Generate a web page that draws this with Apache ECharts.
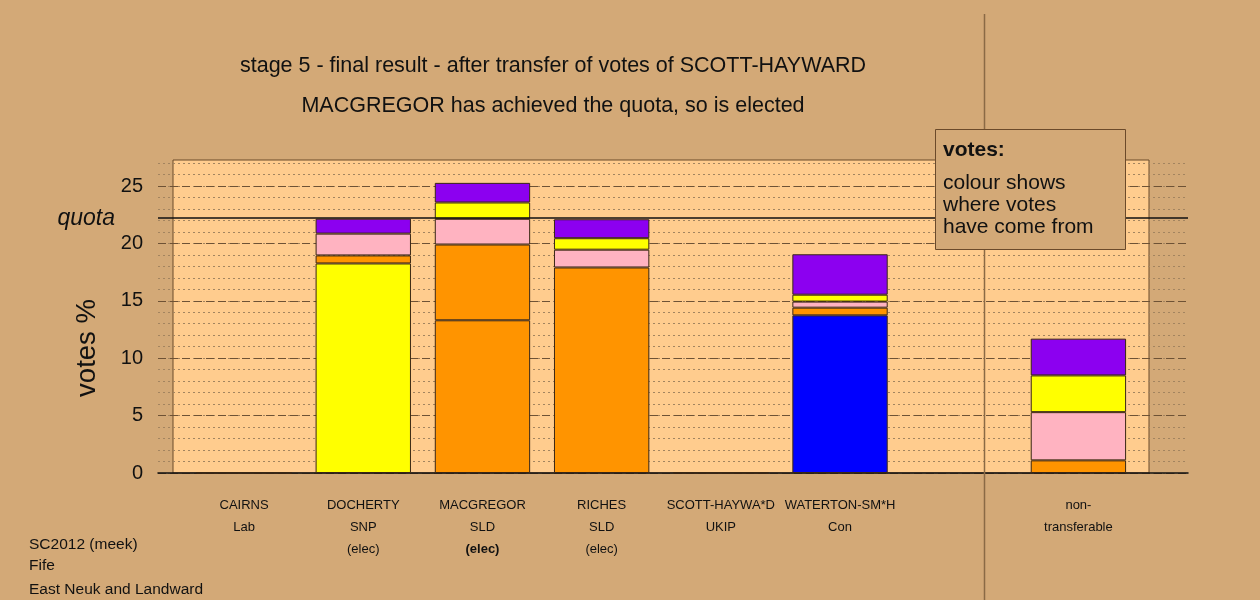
<!DOCTYPE html>
<html>
<head>
<meta charset="utf-8">
<script src="https://cdn.jsdelivr.net/npm/echarts@6/dist/echarts.min.js"></script>
<style>
html,body{margin:0;padding:0;background:#D3A977;}
#c{width:1260px;height:600px;}
</style>
</head>
<body>
<div id="c"></div>
<script>
// ---- data ----
var names = ['CAIRNS', 'DOCHERTY', 'MACGREGOR', 'RICHES', 'SCOTT-HAYWA*D', 'WATERTON-SM*H', '', 'non-'];
var parties = ['Lab', 'SNP', 'SLD', 'SLD', 'UKIP', 'Con', '', 'transferable'];
var elecStatus = ['', '(elec)', '(elec)', '(elec)', '', '', '', ''];
var boldStatus = [false, false, true, false, false, false, false, false];
var ownColors = ['#FFB3C1', '#FFFF00', '#FF9400', '#FF9400', '#8C00F0', '#0000FF', '#FF9400', '#FF9400'];
var firstPrefs = [0, 18.25, 13.3, 17.9, 0, 13.73, '-', '-'];
var fromRiches = ['-', 0.7, 6.6, '-', '-', 0.67, '-', 1.1];
var fromCairns = ['-', 1.9, 2.24, 1.55, '-', 0.53, '-', 4.2];
var fromDocherty = ['-', '-', 1.42, 1.0, '-', 0.6, '-', 3.2];
var fromScottHayward = ['-', 1.3, 1.71, 1.65, '-', 3.52, '-', 3.2];
var transferColors = ['#FF9400', '#FFB3C1', '#FFFF00', '#8C00F0'];
var quota = 22.2;
var yTicks = [0, 5, 10, 15, 20, 25];
var titleLines = ['stage 5 - final result - after transfer of votes of SCOTT-HAYWARD',
                  'MACGREGOR has achieved the quota, so is elected'];
var footLines = ['SC2012 (meek)', 'Fife', 'East Neuk and Landward'];
var legendLines = ['colour shows', 'where votes', 'have come from'];

// ---- chart ----
var chart = echarts.init(document.getElementById('c'), null, {renderer: 'canvas'});
var FONT = '"Liberation Sans", Arial, sans-serif';
var NARROW = '"Liberation Sans Narrow", "Liberation Sans", Arial, sans-serif';
var border = '#3a2614';

function seg(name, data, color) {
  return {
    type: 'bar', name: name, stack: 'v', xAxisIndex: 2, yAxisIndex: 2,
    barWidth: '80%', data: data, silent: true,
    itemStyle: {color: color, borderColor: border, borderWidth: 1}
  };
}

var option = {
  backgroundColor: '#D3A977',
  animation: false,
  grid: [
    {left: 158, right: 72, top: 163, bottom: 127},          // dotted grid
    {left: 158, right: 72, top: 186, bottom: 127},          // dashed grid + labels (0..25)
    {left: 184.5, right: 122, top: 163, bottom: 127},       // bars
    {left: 173, right: 111, top: 160, bottom: 127, show: true, backgroundColor: '#FFCC8E', borderColor: '#6b4a2a', borderWidth: 1, z: 0}
  ],
  xAxis: [
    {type: 'value', gridIndex: 0, min: 0, max: 1, show: true, axisLabel: {show: false}, axisTick: {show: false}, splitLine: {show: false},
     axisLine: {show: true, lineStyle: {color: '#111', width: 1.5}}},
    {type: 'value', gridIndex: 1, min: 0, max: 1, show: false},
    {type: 'category', gridIndex: 2, data: names, axisLine: {show: false}, axisTick: {show: false},
     axisLabel: {
       interval: 0, margin: 21, color: '#111',
       formatter: function (v, i) {
         var s = '{n|' + names[i] + '}\n{p|' + parties[i] + '}';
         if (elecStatus[i]) s += '\n' + (boldStatus[i] ? '{b|' : '{p|') + elecStatus[i] + '}';
         return s;
       },
       rich: {
         n: {fontFamily: NARROW, fontSize: 13, lineHeight: 22, color: '#111'},
         p: {fontFamily: NARROW, fontSize: 13, lineHeight: 22, color: '#111'},
         b: {fontFamily: NARROW, fontSize: 13, lineHeight: 22, fontWeight: 'bold', color: '#111'}
       }
     }},
    {type: 'value', gridIndex: 3, min: 0, max: 1, show: false}
  ],
  yAxis: [
    {type: 'value', gridIndex: 0, min: 0, max: 27, interval: 1, axisLabel: {show: false}, axisLine: {show: false}, axisTick: {show: false},
     splitLine: {show: true, lineStyle: {color: '#a3845f', type: [2, 3], width: 1}}},
    {type: 'value', gridIndex: 1, min: yTicks[0], max: yTicks[yTicks.length - 1], interval: 5,
     axisLine: {show: false}, axisTick: {show: false},
     axisLabel: {show: true, margin: 15, fontFamily: FONT, fontSize: 20, color: '#111'},
     splitLine: {show: true, lineStyle: {color: '#6e5235', type: [8, 4], width: 1}}},
    {type: 'value', gridIndex: 2, min: 0, max: 27, show: false},
    {type: 'value', gridIndex: 3, min: 0, max: 1, show: false}
  ],
  series: [
    {type: 'line', xAxisIndex: 0, yAxisIndex: 0, data: [], silent: true,
     markLine: {
       symbol: 'none', silent: true,
       lineStyle: {color: '#111', type: 'solid', width: 1.5},
       label: {show: true, position: 'start', distance: 43, formatter: 'quota', fontFamily: FONT, fontStyle: 'italic', fontSize: 23, color: '#111'},
       data: [{yAxis: quota}]
     }},
    {type: 'bar', stack: 'v', xAxisIndex: 2, yAxisIndex: 2, barWidth: '80%', data: firstPrefs.map(function (v, i) {
       return {value: v, itemStyle: {color: ownColors[i]}};
     }), itemStyle: {borderColor: border, borderWidth: 1}, silent: true},
    seg('RICHES', fromRiches, transferColors[0]),
    seg('CAIRNS', fromCairns, transferColors[1]),
    seg('DOCHERTY', fromDocherty, transferColors[2]),
    seg('SCOTT-HAYWARD', fromScottHayward, transferColors[3])
  ],
  graphic: [
    {type: 'line', z: 50, shape: {x1: 984.5, y1: 14, x2: 984.5, y2: 600}, style: {stroke: '#8a6a45', lineWidth: 1.5}},
    {type: 'text', x: 553, y: 66, z: 60, style: {text: titleLines[0], font: '21.5px ' + FONT, fill: '#111', textAlign: 'center', textVerticalAlign: 'middle'}},
    {type: 'text', x: 553, y: 106, z: 60, style: {text: titleLines[1], font: '21.5px ' + FONT, fill: '#111', textAlign: 'center', textVerticalAlign: 'middle'}},
    {type: 'text', x: 87, y: 348, z: 60, rotation: Math.PI / 2, style: {text: 'votes %', font: '27.5px ' + FONT, fill: '#111', textAlign: 'center', textVerticalAlign: 'middle'}},
    {type: 'text', x: 29, y: 545, z: 60, style: {text: footLines[0], font: '15.5px ' + FONT, fill: '#111', textVerticalAlign: 'middle'}},
    {type: 'text', x: 29, y: 566, z: 60, style: {text: footLines[1], font: '15.5px ' + FONT, fill: '#111', textVerticalAlign: 'middle'}},
    {type: 'text', x: 29, y: 590, z: 60, style: {text: footLines[2], font: '15.5px ' + FONT, fill: '#111', textVerticalAlign: 'middle'}},
    {type: 'rect', z: 70, shape: {x: 935.5, y: 129.5, width: 190, height: 120}, style: {fill: '#D3A977', stroke: '#6b4a2a', lineWidth: 1}},
    {type: 'text', x: 943, y: 150, z: 71, style: {text: 'votes:', font: 'bold 21px ' + FONT, fill: '#111', textVerticalAlign: 'middle'}},
    {type: 'text', x: 943, y: 183, z: 71, style: {text: legendLines[0], font: '21px ' + FONT, fill: '#111', textVerticalAlign: 'middle'}},
    {type: 'text', x: 943, y: 205, z: 71, style: {text: legendLines[1], font: '21px ' + FONT, fill: '#111', textVerticalAlign: 'middle'}},
    {type: 'text', x: 943, y: 227, z: 71, style: {text: legendLines[2], font: '21px ' + FONT, fill: '#111', textVerticalAlign: 'middle'}}
  ]
};
chart.setOption(option);
</script>
</body>
</html>
